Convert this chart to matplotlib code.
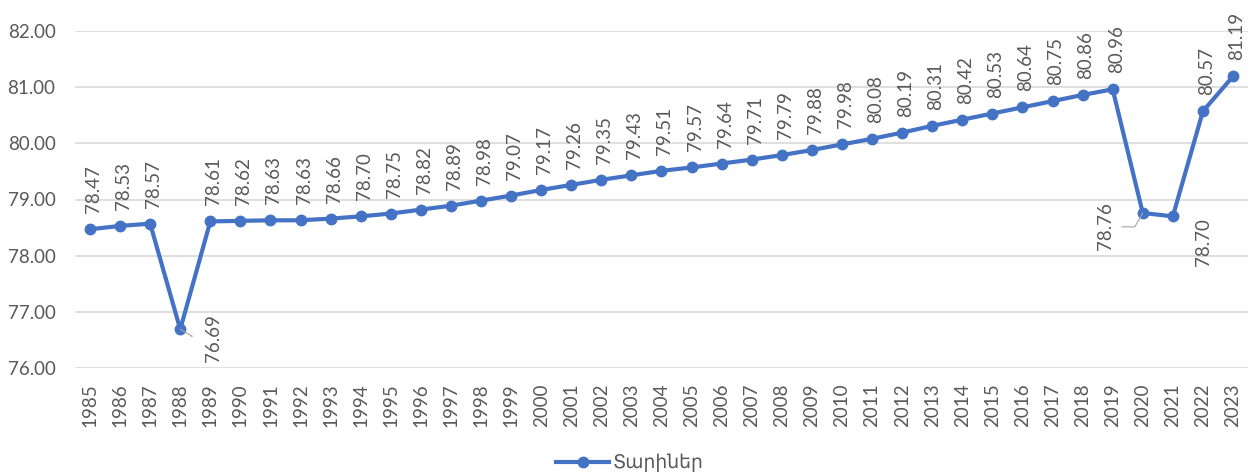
import matplotlib
matplotlib.use("Agg")
import matplotlib.pyplot as plt

years = list(range(1985, 2024))
values = [78.47, 78.53, 78.57, 76.69, 78.61, 78.62, 78.63, 78.63, 78.66, 78.70,
          78.75, 78.82, 78.89, 78.98, 79.07, 79.17, 79.26, 79.35, 79.43, 79.51,
          79.57, 79.64, 79.71, 79.79, 79.88, 79.98, 80.08, 80.19, 80.31, 80.42,
          80.53, 80.64, 80.75, 80.86, 80.96, 78.76, 78.70, 80.57, 81.19]
yticks = [76.0, 77.0, 78.0, 79.0, 80.0, 81.0, 82.0]
series_name = "Տարիներ"

blue = "#4472C4"
grey = "#595959"
fam = ["Lato", "DejaVu Sans"]
plt.rcParams["font.family"] = fam
fs = 13.5

fig = plt.figure(figsize=(12.6, 4.75), dpi=100)
ax = fig.add_axes([0.0595, 0.225, 0.931, 0.71])

x = list(range(len(years)))
ax.plot(x, values, color=blue, lw=3.0, marker="o", ms=7.5, label=series_name,
        solid_joinstyle="round", zorder=3)

ax.set_ylim(76, 82)
ax.set_xlim(-0.5, len(years) - 0.5)
ax.set_yticks(yticks)
ax.set_yticklabels([f"{v:.2f}" for v in yticks])
ax.set_xticks(x)
ax.set_xticklabels([str(y) for y in years], rotation=90)
ax.tick_params(axis="both", length=0, colors=grey, labelsize=fs)
ax.tick_params(axis="x", pad=11)
ax.tick_params(axis="y", pad=14)
ax.grid(axis="y", color="#D9D9D9", lw=1.2)
ax.set_axisbelow(True)
for s in ax.spines.values():
    s.set_visible(False)

leader_kw = dict(arrowstyle="-", color="#A6A6A6", lw=0.8, shrinkA=0, shrinkB=0)

# labels placed beside/below the line for the dips
below = {1988: (24, 11), 2020: (-27, 8), 2021: (22, -1)}
for xi, yr, v in zip(x, years, values):
    txt = f"{v:.2f}"
    if yr in below:
        dx, dy = below[yr]
        ax.annotate(txt, (xi, v), xytext=(dx, dy), textcoords="offset points",
                    rotation=90, ha="center", va="top", fontsize=fs, color=grey)
    else:
        ax.annotate(txt, (xi, v), xytext=(2.5, 11.5), textcoords="offset points",
                    rotation=90, ha="center", va="bottom", fontsize=fs, color=grey)

# short leader lines
ax.annotate("", (x[years.index(1988)], values[years.index(1988)]),
            xytext=(8, -5), textcoords="offset points",
            arrowprops=dict(connectionstyle="angle,angleA=0,angleB=-30", **leader_kw))
ax.annotate("", (x[years.index(2020)], values[years.index(2020)]),
            xytext=(-15, -10), textcoords="offset points",
            arrowprops=dict(connectionstyle="angle,angleA=0,angleB=60", **leader_kw))

fig.legend(loc="lower center", bbox_to_anchor=(0.5, -0.03), frameon=False,
           fontsize=fs, handlelength=2.8, handletextpad=0.2, labelcolor=grey)

fig.savefig("out.png", dpi=100)
